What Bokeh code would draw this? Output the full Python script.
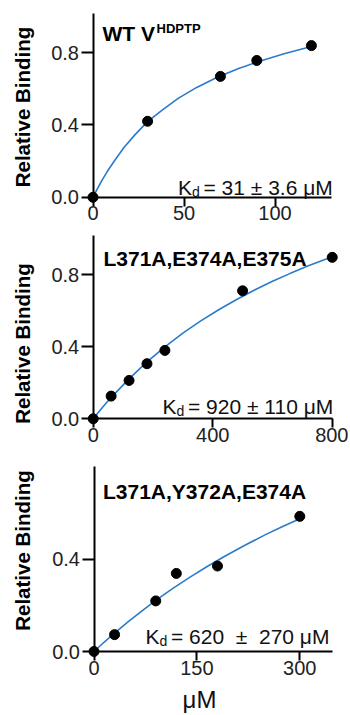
from bokeh.plotting import figure
from bokeh.layouts import column
from bokeh.models import FixedTicker, NumeralTickFormatter, Label
from bokeh.embed import file_html
from bokeh.resources import INLINE

# ---------------- data ----------------
wt_conc = [0, 30, 70, 90, 120]
wt_bind = [0.0, 0.42, 0.668, 0.756, 0.838]
wt_fit_x = [0, 2, 5, 8, 12, 17, 23, 30, 38, 47, 57, 68, 80, 92, 105, 120]
wt_fit_y = [0.0, 0.04, 0.095, 0.145, 0.205, 0.275, 0.345, 0.418, 0.482, 0.548, 0.607, 0.662, 0.712, 0.753, 0.793, 0.833]

m1_conc = [0, 60, 120, 180, 240, 500, 800]
m1_bind = [0.0, 0.126, 0.213, 0.306, 0.38, 0.711, 0.897]
m1_fit_x = [0, 30, 62, 120, 180, 240, 300, 360, 420, 480, 540, 600, 660, 720, 800]
m1_fit_y = [0.0, 0.061, 0.122, 0.222, 0.316, 0.40, 0.476, 0.544, 0.606, 0.663, 0.716, 0.764, 0.808, 0.85, 0.90]

m2_conc = [0, 30, 90, 120, 180, 300]
m2_bind = [0.0, 0.073, 0.219, 0.338, 0.37, 0.585]
m2_fit_x = [0, 15, 30, 50, 70, 90, 115, 140, 165, 190, 220, 250, 275, 300]
m2_fit_y = [0.0, 0.041, 0.080, 0.129, 0.176, 0.221, 0.273, 0.322, 0.368, 0.411, 0.46, 0.506, 0.541, 0.575]

titles = ["WT V", "L371A,E374A,E375A", "L371A,Y372A,E374A"]
title_sup = ["HDPTP", "", ""]
kd_texts = ["= 31 ± 3.6 μM", "= 920 ± 110 μM", "= 620\u00a0\u00a0±\u00a0\u00a0270 μM"]
x_ticks = [[0, 50, 100], [0, 400, 800], [0, 150, 300]]
y_ticks = [[0, 0.4, 0.8], [0, 0.4, 0.8], [0, 0.4]]
x_axis_end = [131, 800, 347]
y_axis_end = [1.015, 1.018, 0.8]
y_label = "Relative Binding"
x_label = "μM"

FONT = "Liberation Sans"
BLUE = "#2b7bcb"
W = 348

# page geometry of each panel (page px): figure top, figure height,
# origin px, px per x unit, px per y unit, text anchors
geo = [
    dict(top=0, h=232, ox=92.5, oy=196.8, sx=1.82, sy=181.0,
         title=(102, 33.3), sup=(156, 27.8), k=(177.5, 187), ylab=(22, 106.5)),
    dict(top=232, h=226, ox=92.7, oy=418.3, sx=0.2988, sy=180.0,
         title=(103, 258), sup=None, k=(162, 406), ylab=(22, 343)),
    dict(top=458, h=256, ox=93.5, oy=651.0, sx=0.686, sy=231.0,
         title=(102.5, 490.5), sup=None, k=(145, 636), ylab=(22, 550)),
]

series = [(wt_conc, wt_bind, wt_fit_x, wt_fit_y),
          (m1_conc, m1_bind, m1_fit_x, m1_fit_y),
          (m2_conc, m2_bind, m2_fit_x, m2_fit_y)]


def make_panel(i):
    g = geo[i]
    xc, yc, fx, fy = series[i]
    tx = lambda px: (px - g["ox"]) / g["sx"]
    ty = lambda py: (g["oy"] - py) / g["sy"]
    p = figure(width=W, height=g["h"], output_backend="svg", toolbar_location=None,
               title=None,
               x_range=(tx(0), tx(W)), y_range=(ty(g["top"] + g["h"]), ty(g["top"])),
               min_border=0, min_border_left=0, min_border_right=0,
               min_border_top=0, min_border_bottom=0)
    p.outline_line_color = None
    p.xgrid.visible = False
    p.ygrid.visible = False
    p.background_fill_color = "white"
    p.border_fill_color = "white"

    xa = p.xaxis[0]
    ya = p.yaxis[0]
    xa.fixed_location = 0
    ya.fixed_location = 0
    xa.bounds = (0, x_axis_end[i])
    ya.bounds = (0, y_axis_end[i])
    xa.ticker = FixedTicker(ticks=x_ticks[i])
    ya.ticker = FixedTicker(ticks=y_ticks[i])
    xa.formatter = NumeralTickFormatter(format="0")
    ya.formatter = NumeralTickFormatter(format="0.0")
    for ax in (xa, ya):
        ax.axis_line_width = 2
        ax.axis_line_color = "black"
        ax.major_tick_line_width = 2
        ax.major_tick_line_color = "black"
        ax.major_tick_in = 0
        ax.minor_tick_line_color = None
        ax.major_label_text_font = FONT
        ax.major_label_text_font_size = "20px"
        ax.major_label_text_color = "#222222"
    xa.major_tick_out = 9
    xa.major_label_standoff = 0
    ya.major_tick_out = 12
    ya.major_label_standoff = 2

    p.line(fx, fy, line_color=BLUE, line_width=1.6)
    p.scatter(xc, yc, size=10, fill_color="black", line_color="black")

    # title
    p.add_layout(Label(x=tx(g["title"][0]), y=ty(g["title"][1]), text=titles[i],
                       text_font=FONT, text_font_style="bold", text_font_size="21px",
                       text_baseline="alphabetic", text_align="left", text_color="black"))
    if g["sup"] is not None:
        p.add_layout(Label(x=tx(g["sup"][0]), y=ty(g["sup"][1]), text=title_sup[i],
                           text_font=FONT, text_font_style="bold", text_font_size="13px",
                           text_baseline="alphabetic", text_align="left", text_color="black"))
    # Kd annotation
    kx, ky = g["k"]
    p.add_layout(Label(x=tx(kx), y=ty(ky), text="K", text_font=FONT, text_font_size="21px",
                       text_baseline="alphabetic", text_align="left", text_color="#111111"))
    p.add_layout(Label(x=tx(kx + 14), y=ty(ky + 4), text="d", text_font=FONT, text_font_size="14px",
                       text_baseline="alphabetic", text_align="left", text_color="#111111"))
    p.add_layout(Label(x=tx(kx + 25.5), y=ty(ky), text=kd_texts[i], text_font=FONT, text_font_size="21px",
                       text_baseline="alphabetic", text_align="left", text_color="#111111"))
    # y label
    lx, ly = g["ylab"]
    p.add_layout(Label(x=tx(lx), y=ty(ly), text=y_label, angle=90, angle_units="deg",
                       text_font=FONT, text_font_style="bold", text_font_size="20.5px",
                       text_baseline="middle", text_align="center", text_color="black"))
    if i == 2:
        p.add_layout(Label(x=tx(199), y=ty(699), text=x_label, text_font=FONT, text_font_size="24px",
                           text_baseline="middle", text_align="center", text_color="#111111"))
    return p


layout = column(make_panel(0), make_panel(1), make_panel(2), spacing=0)
open("out.html", "w").write(file_html(layout, INLINE))
